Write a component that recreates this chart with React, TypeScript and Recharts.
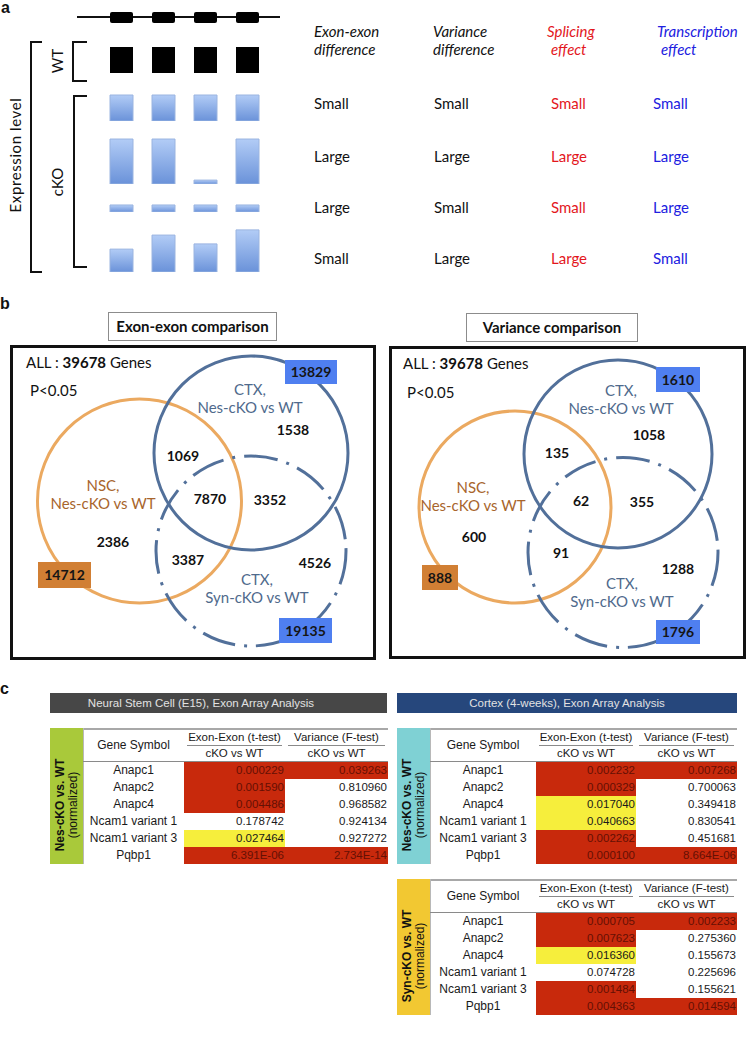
import React from 'react';
import { BarChart, Bar, XAxis, YAxis, ScatterChart, Scatter } from 'recharts';

// ---- panel a: exon expression schematic ----
const exonNames = ['Exon 1', 'Exon 2', 'Exon 3', 'Exon 4'];
const geneModel = [1, 1, 1, 1];
const wtLevels = [1, 1, 1, 1];
const ckoSmallSmall = [1, 1, 1, 1];
const ckoLargeLarge = [1.73, 1.73, 0.15, 1.73];
const ckoLargeSmall = [0.27, 0.27, 0.27, 0.27];
const ckoSmallLarge = [0.88, 1.42, 1.08, 1.62];
const ckoRows = [ckoSmallSmall, ckoLargeLarge, ckoLargeSmall, ckoSmallLarge];

const columnHeads = [
  ['Exon-exon', 'difference'],
  ['Variance', 'difference'],
  ['Splicing', 'effect'],
  ['Transcription', 'effect'],
];
const exonExonDiff = ['Small', 'Large', 'Large', 'Small'];
const varianceDiff = ['Small', 'Large', 'Small', 'Large'];
const splicingEffect = ['Small', 'Large', 'Small', 'Large'];
const transcriptionEffect = ['Small', 'Large', 'Large', 'Small'];

// ---- panel b: venn counts ----
const regionNames = ['NSC only', 'NSC & Nes', 'all three', 'NSC & Syn', 'Nes only', 'Nes & Syn', 'Syn only'];
const exonCounts = [2386, 1069, 7870, 3387, 1538, 3352, 4526];
const varianceCounts = [600, 135, 62, 91, 1058, 355, 1288];
const groupNames = [['NSC,', 'Nes-cKO vs WT'], ['CTX,', 'Nes-cKO vs WT'], ['CTX,', 'Syn-cKO vs WT']];
const exonTotals = [14712, 13829, 19135];
const varianceTotals = [888, 1610, 1796];
const allGenes = 39678;

// ---- panel c: p-values ----
const genes = ['Anapc1', 'Anapc2', 'Anapc4', 'Ncam1 variant 1', 'Ncam1 variant 3', 'Pqbp1'];
const nscExon = ['0.000229', '0.001590', '0.004486', '0.178742', '0.027464', '6.391E-06'];
const nscVar = ['0.039263', '0.810960', '0.968582', '0.924134', '0.927272', '2.734E-14'];
const ctxNesExon = ['0.002232', '0.000329', '0.017040', '0.040663', '0.002262', '0.000100'];
const ctxNesVar = ['0.007268', '0.700063', '0.349418', '0.830541', '0.451681', '8.664E-06'];
const ctxSynExon = ['0.000705', '0.007623', '0.016360', '0.074728', '0.001484', '0.004363'];
const ctxSynVar = ['0.002233', '0.275360', '0.155673', '0.225696', '0.155621', '0.014594'];

const RED = '#c8290c';
const YELLOW = '#f6ee3c';
const LATO = 'Lato, "Open Sans", sans-serif';
const ARIAL = '"Liberation Sans", Arial, sans-serif';

function ExonBars({ levels, bottom, height, max, fill, gradId, radius = 0 }: any) {
  const data = exonNames.map((name, i) => ({ name, level: levels[i] }));
  return (
    <div style={{ position: 'absolute', left: 100, top: bottom - height }}>
      <BarChart width={168} height={height} data={data} margin={{ top: 0, right: 0, bottom: 0, left: 0 }} barCategoryGap={0}>
        {gradId && (
          <defs>
            <linearGradient id={gradId} x1="0" y1="0" x2="0" y2="1">
              <stop offset="0%" stopColor="#b2ccf6" />
              <stop offset="100%" stopColor="#6a92d9" />
            </linearGradient>
          </defs>
        )}
        <XAxis dataKey="name" hide />
        <YAxis hide domain={[0, max]} />
        <Bar
          dataKey="level"
          barSize={23}
          fill={gradId ? `url(#${gradId})` : fill}
          stroke={gradId ? '#9ab4e0' : 'none'}
          strokeWidth={1}
          radius={radius}
          isAnimationActive={false}
        />
      </BarChart>
    </div>
  );
}

const circleStyles = [
  { stroke: '#eba960', dash: undefined },
  { stroke: '#52709a', dash: undefined },
  { stroke: '#52709a', dash: '34 9 3 9' },
];
const groupColors = ['#a8652c', '#4f6a8c', '#4f6a8c'];
const totalFills = ['#d17f34', '#4f7ff0', '#4f7ff0'];

const leftLayout = {
  left: 10, top: 345, width: 366, height: 315,
  circles: [[129.5, 156, 102], [241, 108, 97], [241, 206, 95]],
  labels: [[93, 141], [240, 45], [247, 235]],
  counts: [[103, 197], [173, 111], [200, 154], [178, 215], [283, 85], [260, 155], [305, 218]],
  totals: [[54.5, 230, 53, 26], [301, 27, 52, 24], [295.5, 285.5, 53, 25]],
  all: [16, 17], p: [20, 45],
};
const rightLayout = {
  left: 389, top: 346, width: 357, height: 313,
  circles: [[126, 161, 96], [229, 108, 94], [234, 206.5, 95]],
  labels: [[84, 142], [232, 45], [233, 238]],
  counts: [[85, 191], [168, 107], [192, 155], [172, 207], [260, 89], [253, 156], [289, 223]],
  totals: [[51, 231.5, 36, 25], [289, 33.5, 44, 25], [289, 286, 44, 24]],
  all: [14, 17], p: [18, 46],
};

function Venn({ layout, counts, totals }: any) {
  const { left, top, width, height } = layout;
  const circleData = layout.circles.map((c: number[], i: number) => ({ x: c[0], y: c[1], r: c[2], i }));
  const labelData = groupNames.map((lines, i) => ({ x: layout.labels[i][0], y: layout.labels[i][1], lines, i }));
  const countData = counts.map((v: number, i: number) => ({ x: layout.counts[i][0], y: layout.counts[i][1], value: v, region: regionNames[i] }));
  const totalData = totals.map((v: number, i: number) => ({
    x: layout.totals[i][0], y: layout.totals[i][1], w: layout.totals[i][2], h: layout.totals[i][3], value: v, i,
  }));
  return (
    <div style={{ position: 'absolute', left, top }}>
      <ScatterChart width={width} height={height} margin={{ top: 0, right: 0, bottom: 0, left: 0 }}>
        <XAxis type="number" dataKey="x" domain={[0, width]} hide />
        <YAxis type="number" dataKey="y" domain={[0, height]} reversed hide />
        <Scatter
          data={circleData}
          isAnimationActive={false}
          shape={(p: any) => (
            <circle
              cx={p.cx}
              cy={p.cy}
              r={p.payload.r}
              fill="none"
              stroke={circleStyles[p.payload.i].stroke}
              strokeWidth={3}
              strokeDasharray={circleStyles[p.payload.i].dash}
            />
          )}
        />
        <Scatter
          data={labelData}
          isAnimationActive={false}
          shape={(p: any) => (
            <text x={p.cx} y={p.cy} textAnchor="middle" fill={groupColors[p.payload.i]} fontFamily={LATO} fontSize={15}>
              {p.payload.lines.map((l: string, k: number) => (
                <tspan key={k} x={p.cx} dy={k === 0 ? 5 : 18}>{l}</tspan>
              ))}
            </text>
          )}
        />
        <Scatter
          data={countData}
          isAnimationActive={false}
          shape={(p: any) => (
            <text x={p.cx} y={p.cy + 5} textAnchor="middle" fill="#111" fontFamily={LATO} fontWeight="bold" fontSize={14}>
              {p.payload.value}
            </text>
          )}
        />
        <Scatter
          data={totalData}
          isAnimationActive={false}
          shape={(p: any) => (
            <g>
              <rect x={p.cx - p.payload.w / 2} y={p.cy - p.payload.h / 2} width={p.payload.w} height={p.payload.h} fill={totalFills[p.payload.i]} />
              <text x={p.cx} y={p.cy + 5} textAnchor="middle" fill="#151515" fontFamily={LATO} fontWeight="bold" fontSize={14}>
                {p.payload.value}
              </text>
            </g>
          )}
        />
      </ScatterChart>
      <div style={{ position: 'absolute', left: layout.all[0], top: layout.all[1] - 10, fontFamily: LATO, fontSize: 15, lineHeight: '20px', whiteSpace: 'nowrap', color: '#111' }}>
        ALL : <b>{allGenes}</b> Genes
      </div>
      <div style={{ position: 'absolute', left: layout.p[0], top: layout.p[1] - 10, fontFamily: LATO, fontSize: 15, lineHeight: '20px', color: '#111' }}>
        P&lt;0.05
      </div>
    </div>
  );
}

function exonColor(v: string) {
  const p = parseFloat(v);
  return p < 0.01 ? RED : p < 0.05 ? YELLOW : 'transparent';
}
function varColor(v: string) {
  return parseFloat(v) < 0.05 ? RED : 'transparent';
}

function PTable({ x, y, widths, sideColor, label, exon, variance }: any) {
  const [sw, gw, ew, vw] = widths;
  const headH = 34;
  const rowH = 17;
  const tw = gw + ew + vw;
  const cell = (v: string, bg: string, l: number, w: number, top: number, key: string) => (
    <div
      key={key}
      style={{
        position: 'absolute', left: l, top, width: w, height: rowH, background: bg,
        textAlign: 'right', lineHeight: `${rowH}px`, paddingRight: 1, boxSizing: 'border-box',
        color: bg === RED ? '#651004' : '#1a1a1a', fontSize: 11.5,
      }}
    >
      {v}
    </div>
  );
  return (
    <div style={{ position: 'absolute', left: x, top: y, width: sw + tw, height: headH + rowH * 6, fontFamily: ARIAL, fontSize: 12, color: '#1a1a1a' }}>
      <div style={{ position: 'absolute', left: 0, top: 0, width: sw, height: headH + rowH * 6, background: sideColor }}>
        <div
          style={{
            position: 'absolute', left: sw / 2, top: 78, width: 140, marginLeft: -70, marginTop: -14,
            transform: 'rotate(-90deg)', textAlign: 'center', fontSize: 12, lineHeight: '13px', color: '#111',
          }}
        >
          <div style={{ fontWeight: 'bold' }}>{label}</div>
          <div>(normalized)</div>
        </div>
      </div>
      <div style={{ position: 'absolute', left: sw, top: 0, width: tw, height: 2, background: '#a8a8a8' }} />
      <div style={{ position: 'absolute', left: sw, top: 0, width: 1, height: headH + rowH * 6, background: '#b8b8b8' }} />
      <div style={{ position: 'absolute', left: sw, top: 0, width: gw, height: headH, lineHeight: `${headH}px`, textAlign: 'center', fontSize: 12 }}>
        Gene Symbol
      </div>
      {['Exon-Exon (t-test)', 'Variance (F-test)'].map((h, i) => (
        <React.Fragment key={h}>
          <div style={{ position: 'absolute', left: sw + gw + i * ew, top: 2, width: i ? vw : ew, textAlign: 'center', lineHeight: '15px', fontSize: 11.5 }}>{h}</div>
          <div style={{ position: 'absolute', left: sw + gw + i * ew + 3, top: 17, width: (i ? vw : ew) - 6, height: 1, background: '#8a8a8a' }} />
          <div style={{ position: 'absolute', left: sw + gw + i * ew, top: 18, width: i ? vw : ew, textAlign: 'center', lineHeight: '15px', fontSize: 11.5 }}>cKO vs WT</div>
        </React.Fragment>
      ))}
      <div style={{ position: 'absolute', left: sw, top: headH - 1, width: tw, height: 1, background: '#8a8a8a' }} />
      {genes.map((g, r) => {
        const top = headH + r * rowH;
        return (
          <React.Fragment key={g}>
            <div style={{ position: 'absolute', left: sw, top, width: gw, height: rowH, lineHeight: `${rowH}px`, textAlign: 'center', whiteSpace: 'nowrap' }}>{g}</div>
            {cell(exon[r], exonColor(exon[r]), sw + gw, ew, top, 'e' + r)}
            {cell(variance[r], varColor(variance[r]), sw + gw + ew, vw, top, 'v' + r)}
          </React.Fragment>
        );
      })}
    </div>
  );
}

function PanelAText() {
  const colX = [314, 433, 547, 657];
  const valX = [314, 434, 551, 653];
  const colColors = ['#111', '#111', '#e3161c', '#2020e0'];
  const rowY = [104, 157, 208, 259];
  const cols = [exonExonDiff, varianceDiff, splicingEffect, transcriptionEffect];
  return (
    <g fontFamily={LATO} fontSize={15}>
      {columnHeads.map((lines, i) => (
        <text key={i} fill={colColors[i]} fontStyle="italic">
          <tspan x={colX[i]} y={37}>{lines[0]}</tspan>
          <tspan x={colX[i] + (i > 1 ? 4 : 0)} y={55}>{lines[1]}</tspan>
        </text>
      ))}
      {cols.map((vals, i) =>
        vals.map((v, r) => (
          <text key={i + '-' + r} x={valX[i]} y={rowY[r] + 5} fill={colColors[i]}>{v}</text>
        ))
      )}
      <text transform="translate(21,155) rotate(-90)" textAnchor="middle" fill="#111" letterSpacing={0.6}>Expression  level</text>
      <text transform="translate(63,61) rotate(-90)" textAnchor="middle" fill="#111">WT</text>
      <text transform="translate(63,182) rotate(-90)" textAnchor="middle" fill="#111">cKO</text>
    </g>
  );
}

export default function App() {
  const rowBottoms = [121, 184, 212, 272];
  return (
    <div style={{ position: 'absolute', left: 0, top: 0, width: 747, height: 1039, background: '#fff', overflow: 'hidden' }}>
      <svg width={747} height={1039} style={{ position: 'absolute', left: 0, top: 0 }}>
        <g fontFamily={ARIAL} fontWeight="bold" fontSize={16} fill="#111">
          <text x={1} y={13}>a</text>
          <text x={0} y={309}>b</text>
          <text x={0} y={694}>c</text>
        </g>
        <g stroke="#111" strokeWidth={2} fill="none">
          <path d="M42 42 H31 V272 H42" />
          <path d="M87 42 H73 V81 H87" />
          <path d="M87 96 H74 V267 H87" />
        </g>
        <PanelAText />
      </svg>

      <div style={{ position: 'absolute', left: 77, top: 16, width: 203, height: 2, background: '#111' }} />
      <ExonBars levels={geneModel} bottom={23} height={11} max={1} fill="#000" radius={2} />
      <ExonBars levels={wtLevels} bottom={73} height={52} max={2} fill="#000" />
      {ckoRows.map((lv, i) => (
        <ExonBars key={i} levels={lv} bottom={rowBottoms[i]} height={52} max={2} gradId={`blueGrad${i}`} />
      ))}

      {/* panel b */}
      <div style={{ position: 'absolute', left: 108, top: 312, width: 169, height: 29, border: '1px solid #8c8c8c', boxSizing: 'border-box', textAlign: 'center', lineHeight: '27px', fontFamily: LATO, fontWeight: 'bold', fontSize: 15, color: '#111' }}>
        Exon-exon comparison
      </div>
      <div style={{ position: 'absolute', left: 466, top: 313, width: 172, height: 29, border: '1px solid #8c8c8c', boxSizing: 'border-box', textAlign: 'center', lineHeight: '27px', fontFamily: LATO, fontWeight: 'bold', fontSize: 15, color: '#111' }}>
        Variance comparison
      </div>
      <div style={{ position: 'absolute', left: 10, top: 345, width: 366, height: 315, border: '3px solid #111', boxSizing: 'border-box' }} />
      <div style={{ position: 'absolute', left: 389, top: 346, width: 357, height: 313, border: '3px solid #111', boxSizing: 'border-box' }} />
      <Venn layout={leftLayout} counts={exonCounts} totals={exonTotals} />
      <Venn layout={rightLayout} counts={varianceCounts} totals={varianceTotals} />

      {/* panel c */}
      <div style={{ position: 'absolute', left: 50, top: 693, width: 337, height: 20, paddingRight: 35, boxSizing: 'border-box', background: '#474747', color: '#e2e2e2', fontFamily: ARIAL, fontSize: 11.5, lineHeight: '20px', textAlign: 'center' }}>
        Neural Stem Cell (E15), Exon Array Analysis
      </div>
      <div style={{ position: 'absolute', left: 397, top: 693, width: 340, height: 20, background: '#26477c', color: '#e2e2e2', fontFamily: ARIAL, fontSize: 11.5, lineHeight: '20px', textAlign: 'center' }}>
        Cortex (4-weeks), Exon Array Analysis
      </div>
      <PTable x={50} y={728} widths={[33, 101, 101, 103]} sideColor="#a9c93a" label="Nes-cKO vs. WT" exon={nscExon} variance={nscVar} />
      <PTable x={397} y={728} widths={[33, 106, 100, 101]} sideColor="#7fd1d4" label="Nes-cKO vs. WT" exon={ctxNesExon} variance={ctxNesVar} />
      <PTable x={397} y={879} widths={[33, 106, 100, 101]} sideColor="#f2c832" label="Syn-cKO vs. WT" exon={ctxSynExon} variance={ctxSynVar} />
    </div>
  );
}
